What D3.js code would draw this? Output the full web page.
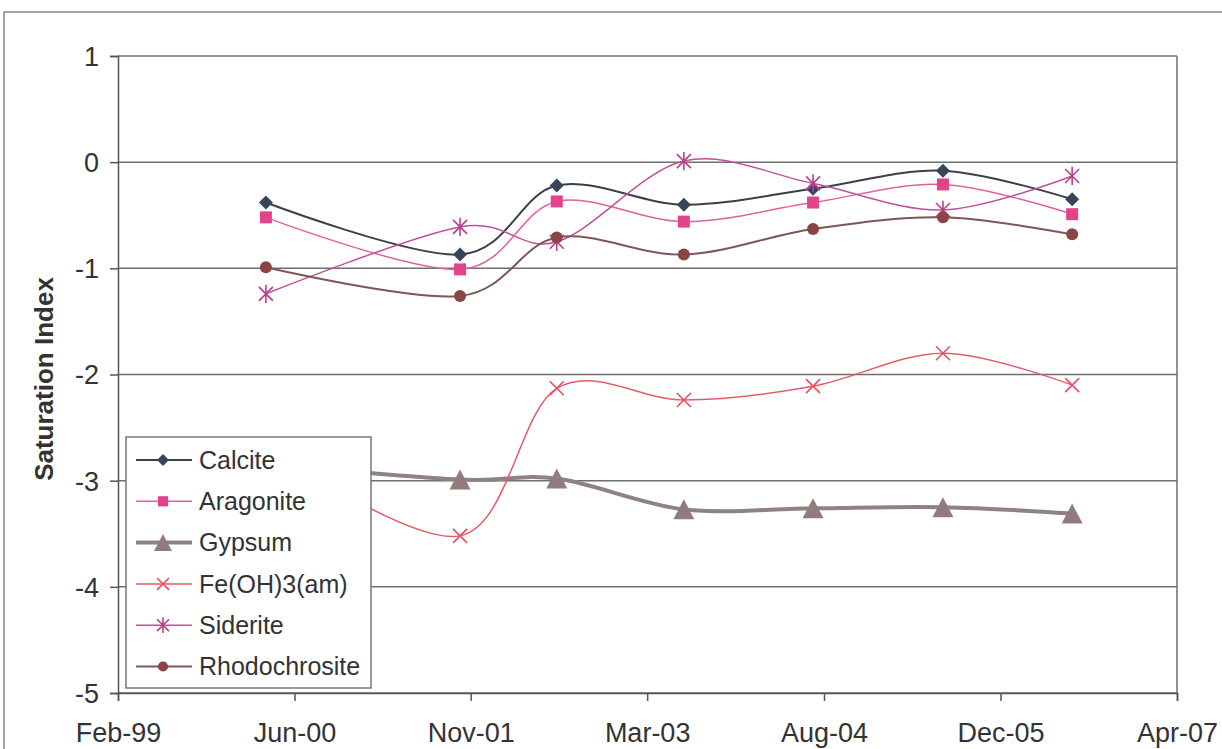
<!DOCTYPE html>
<html><head><meta charset="utf-8">
<script src="https://cdn.jsdelivr.net/npm/d3@7"></script>
<style>body{margin:0;background:#fff}svg{display:block}text{font-family:"Liberation Sans",Arial,sans-serif;fill:#333}</style>
</head><body><svg id="c" width="1222" height="749"></svg>
<script>
const dates = ["2000-04-03","2001-10-05","2002-07-06","2003-07-01","2004-07-01","2005-07-04","2006-07-05"];
const calcite = [-0.38,-0.87,-0.22,-0.40,-0.25,-0.08,-0.35];
const aragonite = [-0.52,-1.01,-0.37,-0.56,-0.38,-0.21,-0.49];
const gypsum = [-2.84,-2.99,-2.98,-3.27,-3.26,-3.25,-3.31];
const feoh3 = [-2.68,-3.52,-2.13,-2.24,-2.11,-1.80,-2.10];
const siderite = [-1.24,-0.61,-0.75,0.01,-0.20,-0.45,-0.13];
const rhodochrosite = [-0.99,-1.26,-0.71,-0.87,-0.63,-0.52,-0.68];
const seriesNames = ["Calcite","Aragonite","Gypsum","Fe(OH)3(am)","Siderite","Rhodochrosite"];
const xTickDates = ["1999-02-09","2000-06-23","2001-11-04","2003-03-19","2004-08-01","2005-12-14","2007-04-28"];
const yTicks = [1,0,-1,-2,-3,-4,-5];
const yTitle = "Saturation Index";

const series = [
  {name:seriesNames[0], values:calcite, line:"#3b3f4c", mark:"#38445a", lw:2, shape:"diamond"},
  {name:seriesNames[1], values:aragonite, line:"#e2609c", mark:"#e2448c", lw:1.5, shape:"square"},
  {name:seriesNames[2], values:gypsum, line:"#8e8282", mark:"#917b7d", lw:4, shape:"triangle"},
  {name:seriesNames[3], values:feoh3, line:"#e65b68", mark:"#e6505f", lw:1.5, shape:"x"},
  {name:seriesNames[4], values:siderite, line:"#c0509a", mark:"#b8408c", lw:1.5, shape:"star"},
  {name:seriesNames[5], values:rhodochrosite, line:"#7e5656", mark:"#8a4545", lw:2, shape:"circle"}
];

const svg = d3.select("#c");
const L=118, R=1177, T=56, B=693;
const parse = d3.utcParse("%Y-%m-%d");
const x = d3.scaleUtc().domain([parse(xTickDates[0]), parse(xTickDates[xTickDates.length-1])]).range([L,R]);
const y = d3.scaleLinear().domain([-5,1]).range([B,T]);

// outer border
svg.append("rect").attr("x",4).attr("y",12).attr("width",1240).attr("height",760)
  .attr("fill","none").attr("stroke","#888").attr("stroke-width",1.5);

// gridlines
svg.append("g").selectAll("line").data(yTicks).join("line")
  .attr("x1",L).attr("x2",R).attr("y1",d=>y(d)).attr("y2",d=>y(d))
  .attr("stroke","#6e6e6e").attr("stroke-width",1.5);
// plot right border
svg.append("line").attr("x1",R).attr("x2",R).attr("y1",T).attr("y2",B).attr("stroke","#6e6e6e").attr("stroke-width",1.5);

// axes
const yAxis = d3.axisLeft(y).tickValues(yTicks).tickSize(8).tickPadding(11).tickFormat(d3.format("d"));
const gy = svg.append("g").attr("transform",`translate(${L},0)`).call(yAxis);
gy.select(".domain").attr("stroke","#555").attr("stroke-width",1.5);
gy.selectAll(".tick line").attr("stroke","#555").attr("stroke-width",1.5);
gy.selectAll(".tick text").style("font-size","27px").attr("fill","#333").attr("dy","0.35em")
  .text(d=> d<0 ? "-"+Math.abs(d) : d);

const xAxis = d3.axisBottom(x).tickValues(xTickDates.map(parse)).tickSize(8).tickPadding(22).tickFormat(d3.utcFormat("%b-%y"));
const gx = svg.append("g").attr("transform",`translate(0,${B})`).call(xAxis);
gx.select(".domain").attr("stroke","#555").attr("stroke-width",1.5);
gx.selectAll(".tick line").attr("stroke","#555").attr("stroke-width",1.5);
gx.selectAll(".tick text").style("font-size","27px").attr("fill","#333").attr("dy","0.71em");

// y title
svg.append("text").attr("transform","translate(53,379) rotate(-90)").attr("text-anchor","middle")
  .style("font-size","26px").style("font-weight","bold").text(yTitle);

function marker(g, shape, color, s){
  if(shape==="diamond") g.append("path").attr("d",`M0,${-s}L${s},0L0,${s}L${-s},0Z`).attr("fill",color);
  else if(shape==="square") g.append("rect").attr("x",-s).attr("y",-s).attr("width",2*s).attr("height",2*s).attr("fill",color);
  else if(shape==="triangle") g.append("path").attr("d",`M0,${-s}L${s*1.05},${s}L${-s*1.05},${s}Z`).attr("fill",color);
  else if(shape==="circle") g.append("circle").attr("r",s).attr("fill",color);
  else if(shape==="x") g.append("path").attr("d",`M${-s},${-s}L${s},${s}M${-s},${s}L${s},${-s}`).attr("stroke",color).attr("stroke-width",1.6);
  else if(shape==="star") g.append("path").attr("d",`M${-s},${-s}L${s},${s}M${-s},${s}L${s},${-s}M0,${-s*1.3}L0,${s*1.3}`).attr("stroke",color).attr("stroke-width",1.6);
}
const msize = {diamond:7, square:6, triangle:10, circle:6, x:7, star:7};

const line = d3.line().x((d,i)=>x(parse(dates[i]))).y(d=>y(d)).curve(d3.curveCardinal.tension(0));
series.forEach(s=>{
  svg.append("path").attr("d",line(s.values)).attr("fill","none").attr("stroke",s.line).attr("stroke-width",s.lw);
  s.values.forEach((v,i)=>{
    const g = svg.append("g").attr("transform",`translate(${x(parse(dates[i]))},${y(v)})`);
    marker(g, s.shape, s.mark, msize[s.shape]);
  });
});

// legend
const lg = svg.append("g");
lg.append("rect").attr("x",126).attr("y",437).attr("width",245).attr("height",251)
  .attr("fill","#fff").attr("stroke","#777").attr("stroke-width",1.5);
series.forEach((s,i)=>{
  const cy = 460 + i*41.3;
  lg.append("line").attr("x1",136).attr("x2",192).attr("y1",cy).attr("y2",cy).attr("stroke",s.line).attr("stroke-width",s.lw);
  const g = lg.append("g").attr("transform",`translate(163,${cy})`);
  marker(g, s.shape, s.mark, msize[s.shape]*0.85);
  lg.append("text").attr("x",199).attr("y",cy).attr("dy","0.35em").style("font-size","25px").text(s.name);
});
</script></body></html>
